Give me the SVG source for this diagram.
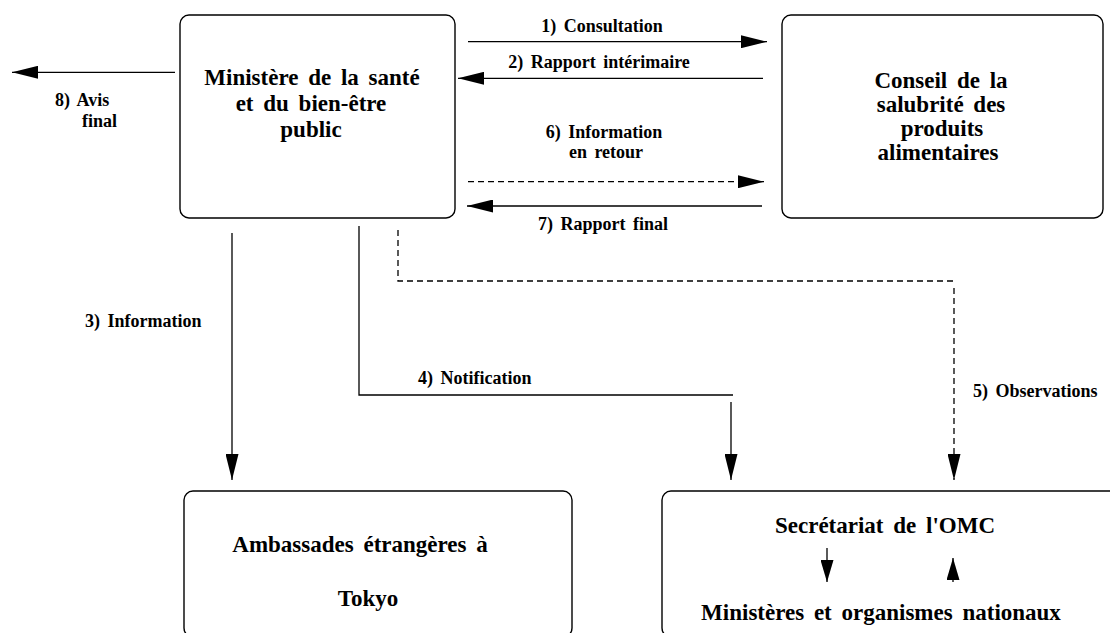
<svg xmlns="http://www.w3.org/2000/svg" width="1110" height="633" viewBox="0 0 1110 633">
<style>
.box{fill:#fff;stroke:#000;stroke-width:1.4}
.c{fill:none;stroke:#000;stroke-width:1.3}
.d{stroke-dasharray:6 4}
</style>
<defs>
<marker id="ah" markerUnits="userSpaceOnUse" markerWidth="26" markerHeight="13" refX="26" refY="6.5" orient="auto" viewBox="0 0 26 13">
<path d="M0,0 L26,6.5 L0,13 z" fill="#000"/>
</marker>
<marker id="ahs" markerUnits="userSpaceOnUse" markerWidth="22" markerHeight="13" refX="22" refY="6.5" orient="auto" viewBox="0 0 22 13">
<path d="M0,0 L22,6.5 L0,13 z" fill="#000"/>
</marker>
</defs>
<rect width="1110" height="633" fill="#fff"/>
<g id="node-ministere" font-family="Liberation Serif, serif" font-weight="bold" font-size="23" word-spacing="4" text-anchor="middle" fill="#000">
<rect class="box" x="180" y="15" width="275" height="203" rx="9"/>
<text x="312" y="85">Ministère de la santé</text>
<text x="311" y="111">et du bien-être</text>
<text x="311" y="137">public</text>
</g>
<g id="node-conseil" font-family="Liberation Serif, serif" font-weight="bold" font-size="23" word-spacing="4" text-anchor="middle" fill="#000">
<rect class="box" x="782" y="15" width="321" height="203" rx="9"/>
<text x="941" y="88">Conseil de la</text>
<text x="941" y="112">salubrité des</text>
<text x="942" y="136">produits</text>
<text x="938" y="160">alimentaires</text>
</g>
<g id="node-ambassades" font-family="Liberation Serif, serif" font-weight="bold" font-size="23" word-spacing="4" text-anchor="middle" fill="#000">
<rect class="box" x="184" y="491" width="388" height="146" rx="9"/>
<text x="360" y="552">Ambassades étrangères à</text>
<text x="368" y="606">Tokyo</text>
</g>
<g id="node-omc" font-family="Liberation Serif, serif" font-weight="bold" font-size="23" word-spacing="4" text-anchor="middle" fill="#000">
<rect class="box" x="662" y="491" width="470" height="146" rx="9"/>
<text x="885" y="533">Secrétariat de l'OMC</text>
<text x="881" y="620">Ministères et organismes nationaux</text>
</g>
<g id="connectors" font-family="Liberation Serif, serif" font-weight="bold" font-size="18" word-spacing="3" fill="#000">
<path class="c" d="M468,41.7 H767" marker-end="url(#ah)"/>
<path class="c" d="M763,78.3 H458" marker-end="url(#ah)"/>
<path class="c d" d="M468,181.7 H764" marker-end="url(#ah)"/>
<path class="c" d="M762,206 H467" marker-end="url(#ah)"/>
<path class="c" d="M175,72.3 H12" marker-end="url(#ah)"/>
<path class="c" d="M232,233 V480" marker-end="url(#ah)"/>
<path class="c" d="M359,226 V395 H733"/>
<path class="c" d="M731,402 V480" marker-end="url(#ah)"/>
<path class="c d" d="M398,230 V281 H955"/>
<path class="c d" d="M954,288 V480" marker-end="url(#ah)"/>
<path class="c" d="M827,548 V582" marker-end="url(#ahs)"/>
<path class="c d" d="M953,582 V558" marker-end="url(#ahs)"/>
<text x="602" y="32" text-anchor="middle">1) Consultation</text>
<text x="599" y="68" text-anchor="middle">2) Rapport intérimaire</text>
<text x="604" y="138" text-anchor="middle">6) Information</text>
<text x="606" y="158" text-anchor="middle">en retour</text>
<text x="603" y="230" text-anchor="middle">7) Rapport final</text>
<text x="55" y="106">8) Avis</text>
<text x="82" y="127">final</text>
<text x="85" y="327">3) Information</text>
<text x="418" y="384">4) Notification</text>
<text x="973" y="397">5) Observations</text>
</g>
</svg>
